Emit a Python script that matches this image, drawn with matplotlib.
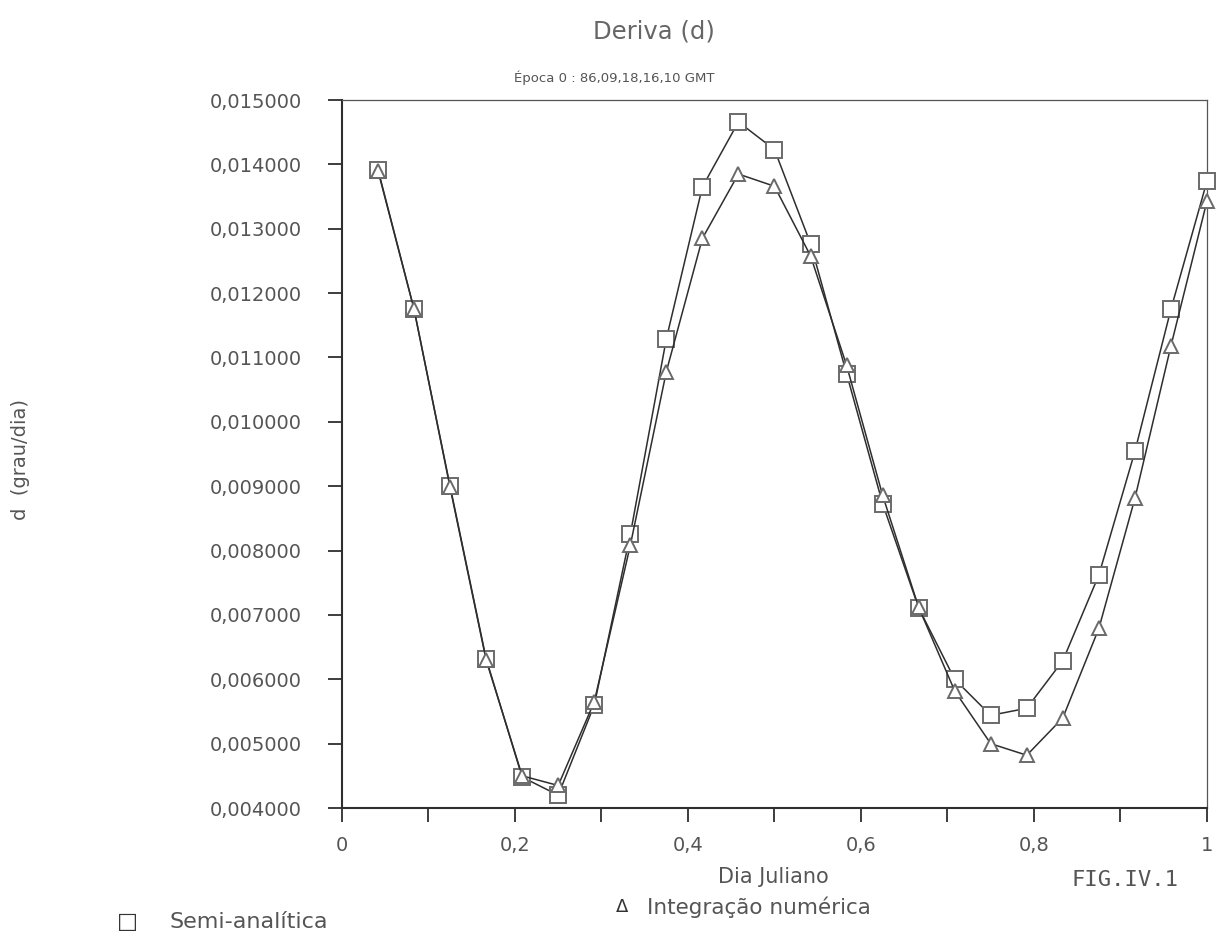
import matplotlib
matplotlib.use("Agg")
import matplotlib.pyplot as plt
from matplotlib.ticker import FuncFormatter, MultipleLocator

# dia juliano: 24 pontos, passo de 1 hora
dia = [k / 24 for k in range(1, 25)]

semi_analitica = [0.01392, 0.01175, 0.00900, 0.00632, 0.00448, 0.00420,
                  0.00560, 0.00825, 0.01129, 0.01365, 0.01466, 0.01423,
                  0.01277, 0.01075, 0.00873, 0.00711, 0.00600, 0.00544,
                  0.00555, 0.00629, 0.00762, 0.00954, 0.01175, 0.01374]

integracao = [0.01390, 0.01175, 0.00898, 0.00630, 0.00450, 0.00435,
              0.00565, 0.00808, 0.01078, 0.01285, 0.01385, 0.01366,
              0.01258, 0.01088, 0.00886, 0.00712, 0.00582, 0.00500,
              0.00482, 0.00540, 0.00679, 0.00881, 0.01118, 0.01343]

x_ticks = [0, 0.2, 0.4, 0.6, 0.8, 1.0]
y_ticks = [0.004, 0.005, 0.006, 0.007, 0.008, 0.009, 0.010,
           0.011, 0.012, 0.013, 0.014, 0.015]

TXT = '#555555'
LIN = '#2e2e2e'
MK = '#6a6a6a'
plt.rcParams['font.family'] = ['DejaVu Sans']

fig = plt.figure(figsize=(12.23, 9.40), dpi=100)
ax = fig.add_axes([0.2796, 0.1404, 0.7073, 0.7532])

ax.plot(dia, semi_analitica, color=LIN, lw=1.1, marker='s', ms=11,
        mfc='white', mec=MK, mew=1.4, zorder=3, clip_on=False)
ax.plot(dia, integracao, color=LIN, lw=1.1, marker='^', ms=10,
        mfc='white', mec=MK, mew=1.4, zorder=3, clip_on=False)

ax.set_xlim(0, 1)
ax.set_ylim(0.004, 0.015)
ax.set_xticks(x_ticks)
ax.xaxis.set_minor_locator(MultipleLocator(0.1))
ax.set_yticks(y_ticks)

def virgula(v, pos, casas):
    if casas == 0:
        s = ('%g' % round(v, 3))
    else:
        s = '%.*f' % (casas, v)
    return s.replace('.', ',')

ax.xaxis.set_major_formatter(FuncFormatter(lambda v, p: virgula(v, p, 0)))
ax.yaxis.set_major_formatter(FuncFormatter(lambda v, p: virgula(v, p, 6)))

ax.tick_params(axis='both', which='both', direction='out', length=10,
               width=1.3, color=LIN, labelcolor=TXT, labelsize=14)
ax.tick_params(axis='y', pad=19)
ax.tick_params(axis='x', pad=10)
for side in ['left', 'bottom']:
    ax.spines[side].set_linewidth(1.5)
    ax.spines[side].set_color(LIN)
for side in ['top', 'right']:
    ax.spines[side].set_linewidth(0.9)
    ax.spines[side].set_color('#555555')

fig.text(0.535, 0.966, 'Deriva (d)', ha='center', va='center',
         fontsize=17.5, color='#666666')
fig.text(0.502, 0.917, 'Época 0 : 86,09,18,16,10 GMT', ha='center',
         va='center', fontsize=9.5, color=TXT)
fig.text(0.0164, 0.511, 'd  (grau/dia)', rotation=90, ha='center',
         va='center', fontsize=14, color=TXT)
fig.text(0.632, 0.067, 'Dia Juliano', ha='center', va='center',
         fontsize=15, color=TXT)
fig.text(0.920, 0.064, 'FIG.IV.1', ha='center', va='center',
         fontsize=16, color=TXT, family='DejaVu Sans Mono')
fig.text(0.104, 0.019, '□', ha='center', va='center', fontsize=16,
         color='#333333')
fig.text(0.139, 0.019, 'Semi-analítica', ha='left', va='center',
         fontsize=16, color=TXT)
fig.text(0.509, 0.035, 'Δ', ha='center', va='center', fontsize=13,
         color='#333333')
fig.text(0.529, 0.035, 'Integração numérica', ha='left', va='center',
         fontsize=15.5, color=TXT)

fig.savefig('out.png', dpi=100, facecolor='white')
plt.close(fig)
